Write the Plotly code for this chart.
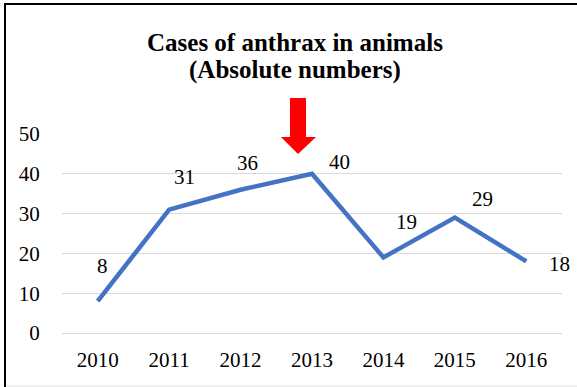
import plotly.graph_objects as go

years = ["2010", "2011", "2012", "2013", "2014", "2015", "2016"]
cases = [8, 31, 36, 40, 19, 29, 18]
label_dx = [5, 15, 7, 27, 23, 28, 33]
label_dy = [35, 33, 27, 12, 35, 19, -3]
title_lines = ["Cases of anthrax in animals", "(Absolute numbers)"]

L, R, T, B = 62, 15, 134, 54
W, H = 577, 387
PW, PH = W - L - R, H - T - B

def px(x):
    return (x - L) / PW

def py(y):
    return (H - B - y) / PH

FONT = "'Liberation Serif', 'DejaVu Serif', serif"
FS = 21

fig = go.Figure()
fig.add_trace(go.Scatter(
    x=years, y=cases, mode="lines",
    line=dict(color="#4472C4", width=4.5),
    hoverinfo="skip", showlegend=False,
))

for i, (v, dx, dy) in enumerate(zip(cases, label_dx, label_dy)):
    fig.add_annotation(x=i, y=v, text=str(v), showarrow=False,
                       xshift=dx, yshift=dy,
                       font=dict(family=FONT, size=FS, color="#000000"))

# title (two lines)
for line_text, yc in zip(title_lines, [42, 70]):
    fig.add_annotation(x=px(294.5), y=py(yc), xref="paper", yref="paper",
                       text=f"<b>{line_text}</b>", showarrow=False,
                       xanchor="center", yanchor="middle",
                       font=dict(family=FONT, size=25, color="#000000"))

# red arrow
arrow = [(290, 98), (306, 98), (306, 137), (316, 137), (298, 154), (281, 137), (290, 137)]
path = "M " + " L ".join(f"{px(a):.4f},{py(b):.4f}" for a, b in arrow) + " Z"
fig.add_shape(type="path", path=path, xref="paper", yref="paper",
              fillcolor="#FF0000", line=dict(width=0))

# frame: black left and top edges, light grey bottom edge
fig.add_shape(type="line", xref="paper", yref="paper",
              x0=px(5), x1=px(5), y0=py(388), y1=py(3),
              line=dict(color="#000000", width=2))
fig.add_shape(type="line", xref="paper", yref="paper",
              x0=px(4), x1=px(578), y0=py(4), y1=py(4),
              line=dict(color="#000000", width=2))
fig.add_shape(type="line", xref="paper", yref="paper",
              x0=px(6), x1=px(578), y0=py(386), y1=py(386),
              line=dict(color="#E0E0E0", width=1))

fig.update_layout(
    width=W, height=H,
    margin=dict(l=L, r=R, t=T, b=B),
    paper_bgcolor="white", plot_bgcolor="white",
    font=dict(family=FONT, size=FS, color="#000000"),
)
fig.update_xaxes(type="category", range=[-0.5, 6.5], showgrid=False, showline=False, zeroline=False,
                 ticks="outside", ticklen=8, tickcolor="rgba(0,0,0,0)",
                 tickfont=dict(family=FONT, size=FS, color="#000000"))
fig.update_yaxes(range=[0, 50], dtick=10, showgrid=True, gridcolor="#D9D9D9", gridwidth=1,
                 zeroline=True, zerolinecolor="#D9D9D9", zerolinewidth=1, showline=False,
                 ticks="outside", ticklen=17, tickcolor="rgba(0,0,0,0)",
                 tickfont=dict(family=FONT, size=FS, color="#000000"))

fig.write_html("out.html")
